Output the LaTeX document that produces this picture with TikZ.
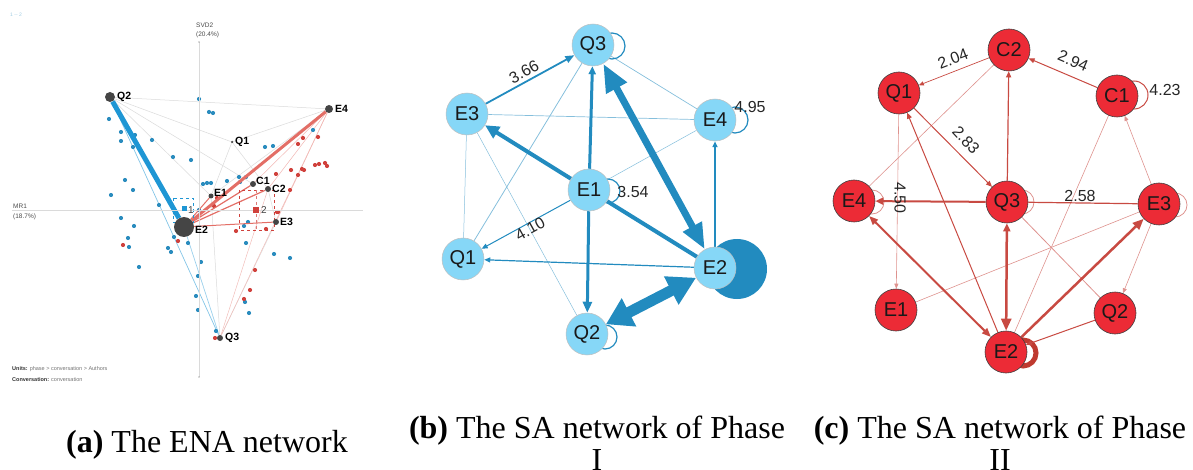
\documentclass[tikz,border=0pt]{standalone}
\usepackage{fontspec}
\setmainfont{Liberation Serif}
\newfontfamily\arialf{Liberation Sans}
\usetikzlibrary{arrows.meta}
\definecolor{enaNode}{HTML}{454545}
\definecolor{enaBlue}{HTML}{1E96D4}
\definecolor{enaDotB}{HTML}{2A8CBE}
\definecolor{enaDotR}{HTML}{D0413C}
\definecolor{enaRed}{HTML}{E36E66}
\definecolor{enaGrid}{HTML}{DADADA}
\definecolor{saBfill}{HTML}{86D7F7}
\definecolor{saBline}{HTML}{228BBF}
\definecolor{saCfill}{HTML}{EC2B36}
\definecolor{saCline}{HTML}{C84A42}
\definecolor{saCloop}{HTML}{BF3A30}
\pgfdeclarelayer{bg}
\pgfsetlayers{bg,main}
\begin{document}
\begin{tikzpicture}[x=1pt,y=-1pt,
  enanode/.style={circle,fill=enaNode,inner sep=0pt,minimum size=#1},
  enalbl/.style={font=\arialf\bfseries\fontsize{10.5}{12}\selectfont,text=black,inner sep=1pt},
  axlbl/.style={font=\arialf\fontsize{6.5}{7.5}\selectfont,text=black!70,inner sep=0pt,anchor=west},
  gline/.style={draw=enaGrid,line width=0.5pt},
  rline/.style={draw=enaRed,line width=#1},
  bdot/.style={fill=enaDotB},
  rdot/.style={fill=enaDotR},
  nodeB/.style={circle,fill=saBfill,draw=black!25,line width=0.5pt,minimum size=42pt,inner sep=0pt,
    font=\arialf\fontsize{20}{22}\selectfont,text=black!90},
  nodeC/.style={circle,fill=saCfill,draw=black!75,line width=0.6pt,minimum size=42pt,inner sep=0pt,
    font=\arialf\fontsize{20}{22}\selectfont,text=black!90},
  eB/.style={draw=saBline},
  eBthin/.style={draw=saBline!55,line width=0.7pt},
  eC/.style={draw=saCline},
  eCthin/.style={draw=saCline!60,line width=0.6pt},
  wlbl/.style={font=\arialf\fontsize{16}{18}\selectfont,text=black!85,inner sep=0pt},
  captxt/.style={font=\fontsize{32}{36}\selectfont,anchor=base,inner sep=0pt}
]
\useasboundingbox (0,0) rectangle (1193,470);

% ---------------- (a) ENA projection ----------------
\node[font=\arialf\fontsize{5}{6}\selectfont,text=enaDotB!45!white,anchor=west,inner sep=0pt] (leg) at (10,15) {1 -- 2};
\coordinate (axT) at (199,42);
\coordinate (axB) at (199,377);
\coordinate (axL) at (12,210);
\coordinate (axR) at (363,210);
\draw[enaGrid,line width=0.6pt] (axT) -- (axB);
\draw[enaGrid,line width=0.6pt] (axL) -- (axR);
\fill[black!60] (axT) circle (0.7pt);
\fill[black!60] (axB) circle (0.7pt);
\node[axlbl] (svd) at (196,25) {SVD2};
\node[axlbl] (svdp) at (196,35) {(20.4\%)};
\node[axlbl] (mr) at (13,206) {MR1};
\node[axlbl] (mrp) at (13,217) {(18.7\%)};
\node[axlbl,font=\arialf\fontsize{5.5}{6.5}\selectfont,text=black!55] (units) at (12,369) {\textbf{\color{black!80}Units:} phase > conversation > Authors};
\node[axlbl,font=\arialf\fontsize{5.5}{6.5}\selectfont,text=black!55] (conv) at (12,380) {\textbf{\color{black!80}Conversation:} conversation};

% network nodes of the projection
\node[enanode=10pt] (aQ2) at (110,97) {};
\node[enanode=8pt] (aE4) at (329,109) {};
\node[enanode=2.5pt] (aQ1) at (232,142) {};
\node[enanode=6pt] (aC1) at (253,184) {};
\node[enanode=6pt] (aC2) at (268,189) {};
\node[enanode=5pt] (aE1) at (211,196) {};
\node[enanode=20pt] (aE2) at (184,227) {};
\node[enanode=6pt] (aE3) at (276,222) {};
\node[enanode=6pt] (aQ3) at (220,338) {};

\begin{pgfonlayer}{bg}
% faint co-occurrence lines
\draw[gline] (aQ2) -- (aE4);
\draw[gline] (aQ2) -- (aQ1);
\draw[gline] (aQ2) -- (aE1);
\draw[gline] (aQ2) -- (aC1);
\draw[gline] (aQ1) -- (aE4);
\draw[gline] (aQ1) -- (aE1);
\draw[gline] (aQ1) -- (aC2);
\draw[gline] (aE1) -- (aQ3);
\draw[gline] (aE3) -- (aQ3);
\draw[gline] (aC2) -- (aE3);
\draw[gline] (aE4) -- (aE1);
\draw[draw=enaRed!45,line width=0.5pt] (aE4) -- (aQ3);
\draw[draw=enaRed!45,line width=0.5pt] (aC2) -- (aQ3);
\draw[draw=enaRed!50,line width=0.5pt] (aE4) -- (aC1);
\draw[draw=enaRed!50,line width=0.5pt] (aE4) -- (aC2);
\draw[draw=enaRed!50,line width=0.5pt] (aE4) -- (aE3);
\draw[draw=enaBlue!55,line width=0.7pt] (aQ2) -- (aQ3);
\draw[draw=enaBlue!45,line width=0.7pt] (aE2) -- (aQ3);
% units
\foreach \p in {(199,99),(209,112),(213,113),(109,119),(121,132),(135,135),(121,141),(133,147),
  (152,140),(173,157),(191,160),(265,147),(273,146),(125,180),(133,190),(111,195),(159,205),
  (203,184),(207,183),(211,183),(227,181),(239,177),(246,177),(240,182),(199,210),(313,130),
  (248,222),(121,218),(134,226),(128,238),(129,247),(139,267),(168,248),(171,252),(174,237),
  (188,243),(201,262),(198,276),(196,296),(198,310),(246,243),(244,226),(274,254),(290,258),
  (245,302),(249,313),(216,331),(175,213)}
  \fill[bdot] \p circle (2.1pt);
\foreach \p in {(123,245),(178,241),(236,231),(266,229),(278,212),(255,270),(250,290),(244,299),
  (215,338),(303,138),(318,137),(298,144),(315,165),(319,164),(325,163),(327,166),(302,169),
  (304,170),(291,170),(276,174),(298,175),(290,190),(217,198),(214,206),(277,212)}
  \fill[rdot] \p circle (2.1pt);
% strong connections
\draw[rline=1pt] (aE2) -- (aE3);
\draw[rline=1.2pt] (aE2) -- (aC1);
\draw[rline=1.2pt] (aE2) -- (aC2);
\draw[rline=1pt] (aE2) -- (aE1);
\draw[rline=3pt] (aE2) -- (aE4);
\draw[draw=enaBlue,line width=5pt] (aQ2) -- (aE2);
% group means with confidence boxes
\draw[enaBlue,dashed,line width=0.8pt] (173,198) rectangle (193,222);
\draw[enaDotR,dashed,line width=0.8pt] (239,190) rectangle (274,230);
\draw[enaDotR!70,dashed,line width=0.6pt] (256,190) -- (256,230);
\end{pgfonlayer}
\fill[enaBlue] (181.5,206.5) rectangle (186.5,211.5);
\fill[enaDotR] (253,207) rectangle (259,213);
\node[enalbl,anchor=west,text=black!75,font=\arialf\fontsize{10}{12}\selectfont] (m1) at (187,210) {1};
\node[enalbl,anchor=west,text=black!75,font=\arialf\fontsize{10}{12}\selectfont] (m2) at (260,210) {2};

\node[enalbl,anchor=west] (lQ2) at (116,97) {Q2};
\node[enalbl,anchor=west] (lE4) at (334,109) {E4};
\node[enalbl,anchor=west] (lQ1) at (234,142) {Q1};
\node[enalbl,anchor=west] (lC1) at (255,181) {C1};
\node[enalbl,anchor=west] (lC2) at (271,189) {C2};
\node[enalbl,anchor=west] (lE1) at (213,193) {E1};
\node[enalbl,anchor=west] (lE2) at (194,230) {E2};
\node[enalbl,anchor=west] (lE3) at (279,222) {E3};
\node[enalbl,anchor=west] (lQ3) at (224,338) {Q3};

% ---------------- (b) SA network, phase I ----------------
\node[nodeB] (bQ3) at (593,45) {Q3};
\node[nodeB] (bE3) at (467,114) {E3};
\node[nodeB] (bE4) at (715,120) {E4};
\node[nodeB] (bE1) at (589,190) {E1};
\node[nodeB] (bQ1) at (463,259) {Q1};
\node[nodeB] (bE2) at (715,268) {E2};
\node[nodeB] (bQ2) at (587,334) {Q2};

\begin{pgfonlayer}{bg}
\draw[eBthin] (bQ3) -- (bE4);
\draw[eBthin] (bE3) -- (bE4);
\draw[eBthin,line width=0.5pt] (bE4) -- (bE1);
\draw[eBthin,line width=0.8pt] (bQ3) -- (bQ1);
\draw[eBthin,line width=0.5pt] (bE3) -- (bQ1);
\draw[eBthin,line width=0.5pt] (bE3) -- (bQ2);
\fill[saBline] (bE2) ++(22,1) circle (30pt);
\draw[eB,line width=1.2pt] (bQ3) ++(19,1) circle (13pt);
\draw[eB,line width=1.2pt] (bE4) ++(20,0) circle (13pt);
\draw[eB,line width=1.2pt] (bE1) ++(19,1) circle (12pt);
\draw[eB,line width=1.2pt] (bQ2) ++(18,3) circle (12pt);
\draw[eB,line width=1.8pt,-{Triangle[width=7pt,length=9pt]}] (bE3) -- (bQ3);
\draw[eB,line width=4pt,-{Triangle[width=13pt,length=14pt]}] (bE1) -- (bE3);
\draw[eB,line width=3pt,-{Triangle[width=7pt,length=8pt]}] (bE1) -- (bQ3);
\draw[eB,line width=3pt,-{Triangle[width=9pt,length=11pt]}] (bE1) -- (bQ2);
\draw[eB,line width=4pt] (bE1) -- (bE2);
\draw[eB,line width=1.5pt,-{Triangle[width=5pt,length=6pt]}] (bE2) -- (bE4);
\draw[eB,line width=1.2pt,-{Triangle[width=5pt,length=6pt]}] (bE2) -- (bQ1);
\draw[eB,line width=1pt,-{Triangle[width=5pt,length=6pt]}] (bE1) -- (bQ1);
\draw[eB,line width=7pt,{Triangle[width=22pt,length=28pt]}-{Triangle[width=20pt,length=26pt]}] (bQ3) -- (bE2);
\draw[eB,line width=11pt,{Triangle[width=30pt,length=26pt]}-{Triangle[width=30pt,length=28pt]}] (bQ2) -- (bE2);
\end{pgfonlayer}
\node[wlbl,rotate=28] (w366) at (524,72) {3.66};
\node[wlbl,rotate=29] (w410) at (530,229) {4.10};
\node[wlbl] (w354) at (633,192) {3.54};
\node[wlbl] (w495) at (750,107) {4.95};

% ---------------- (c) SA network, phase II ----------------
\node[nodeC] (cC2) at (1009,50) {C2};
\node[nodeC] (cQ1) at (899,93) {Q1};
\node[nodeC] (cC1) at (1117,96) {C1};
\node[nodeC] (cE4) at (854,201) {E4};
\node[nodeC] (cQ3) at (1007,202) {Q3};
\node[nodeC] (cE3) at (1159,204) {E3};
\node[nodeC] (cE1) at (896,310) {E1};
\node[nodeC] (cQ2) at (1115,313) {Q2};
\node[nodeC] (cE2) at (1006,352) {E2};

\begin{pgfonlayer}{bg}
\draw[eCthin] (cC2) -- (cE4);
\draw[eCthin] (cE2) -- (cC1);
\draw[eCthin] (cE1) -- (cE3);
\draw[eCthin,line width=0.8pt] (cQ3) -- (cQ2);
\draw[eCthin,-{Triangle[width=4pt,length=5pt]}] (cE3) -- (cC1);
\draw[eCthin,-{Triangle[width=4pt,length=5pt]}] (cE3) -- (cQ2);
\draw[eCthin,-{Triangle[width=4pt,length=5pt]}] (cQ1) -- (cE1);
\draw[eCthin,line width=0.8pt] (cQ3) ++(15,0) circle (12pt);
\draw[eCthin,line width=0.8pt] (cE4) ++(18,1) circle (12pt);
\draw[eCthin,line width=0.8pt] (cE3) ++(16,1) circle (12pt);
\draw[eC,line width=1pt] (cC1) ++(17,-1) circle (14pt);
\draw[draw=saCloop,line width=5pt] (cE2) ++(17,1) circle (13pt);
\draw[eC,line width=0.7pt,-{Triangle[width=4pt,length=5pt]}] (cC2) -- (cQ1);
\draw[eC,line width=1pt,-{Triangle[width=5pt,length=6pt]}] (cC1) -- (cC2);
\draw[eC,line width=1pt,-{Triangle[width=5pt,length=6pt]}] (cQ1) -- (cQ3);
\draw[eC,line width=1.2pt,-{Triangle[width=5pt,length=6pt]}] (cQ3) -- (cC2);
\draw[eC,line width=1pt,-{Triangle[width=5pt,length=6pt]}] (cE2) -- (cQ1);
\draw[eC,line width=2pt,-{Triangle[width=7pt,length=8pt]}] (cQ3) -- (cE4);
\draw[eC,line width=1.2pt] (cE3) -- (cQ3);
\draw[eC,line width=2pt,{Triangle[width=7pt,length=9pt]}-{Triangle[width=7pt,length=9pt]}] (cE4) -- (cE2);
\draw[eC,line width=2.5pt,{Triangle[width=7pt,length=8pt]}-{Triangle[width=10pt,length=12pt]}] (cQ3) -- (cE2);
\draw[eC,line width=2.5pt,-{Triangle[width=9pt,length=11pt]}] (cE2) -- (cE3);
\draw[eC,line width=1pt,-{Triangle[width=5pt,length=6pt]}] (cQ2) -- (cE2);
\end{pgfonlayer}
\node[wlbl,rotate=21] (w204) at (953,59) {2.04};
\node[wlbl,rotate=-23] (w294) at (1073,61) {2.94};
\node[wlbl,rotate=-47] (w283) at (966,140) {2.83};
\node[wlbl,rotate=-90] (w450) at (900,198) {4.50};
\node[wlbl] (w423) at (1165,90) {4.23};
\node[wlbl] (w258) at (1080,196) {2.58};

% ---------------- captions ----------------
\node[captxt] (capA) at (207,452) {\textbf{(a)} The ENA network};
\node[captxt] (capB) at (597,438) {\textbf{(b)} The SA network of Phase};
\node[captxt] (capBi) at (597,470) {I};
\node[captxt] (capC) at (1000,438) {\textbf{(c)} The SA network of Phase};
\node[captxt] (capCi) at (1000,470) {II};
\end{tikzpicture}
\end{document}
